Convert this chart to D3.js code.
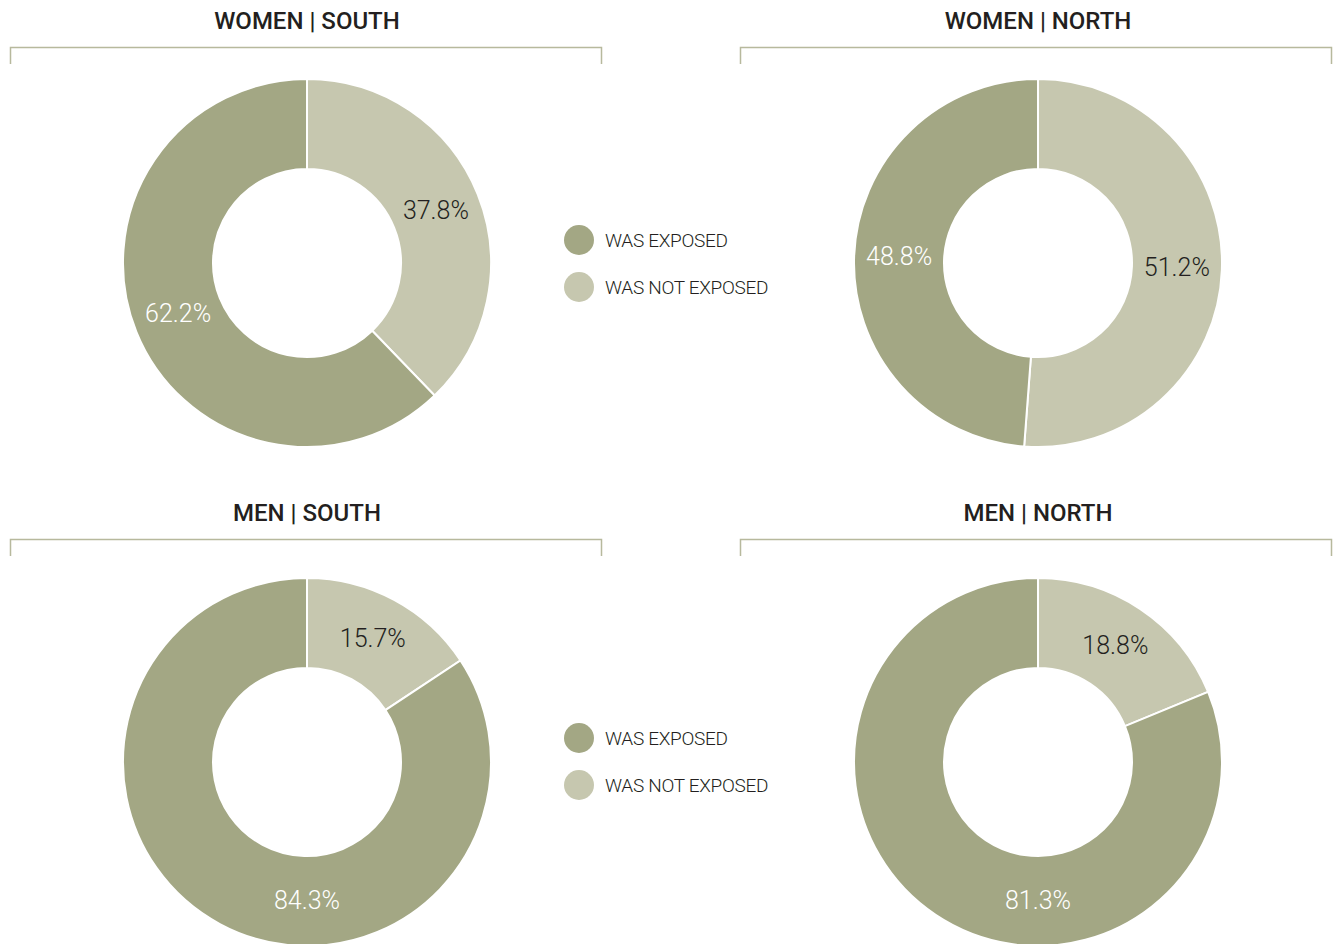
<!DOCTYPE html>
<html>
<head>
<meta charset="utf-8">
<script src="https://cdn.jsdelivr.net/npm/d3@7"></script>
<style>
  body { margin: 0; background: #fff; }
  svg text { font-family: Roboto, "DejaVu Sans", sans-serif; }
</style>
</head>
<body>
<div id="chart"></div>
<script>
// data
const categories = ["WAS NOT EXPOSED", "WAS EXPOSED"];
const panelTitles = ["WOMEN | SOUTH", "WOMEN | NORTH", "MEN | SOUTH", "MEN | NORTH"];
const womenSouth = [37.8, 62.2];
const womenNorth = [51.2, 48.8];
const menSouth = [15.7, 84.3];
const menNorth = [18.8, 81.3];
const legendItems = ["WAS EXPOSED", "WAS NOT EXPOSED"];

const panelValues = [womenSouth, womenNorth, menSouth, menNorth];

const width = 1333, height = 944;
const svg = d3.select("#chart").append("svg")
    .attr("width", width)
    .attr("height", height);

const color = d3.scaleOrdinal()
    .domain(categories)
    .range(["#c6c7af", "#a3a784"]);
const labelColor = d3.scaleOrdinal()
    .domain(categories)
    .range(["#231f20", "#ffffff"]);

const outerR = 184, innerR = 94;
const midR = (outerR + innerR) / 2;
const pie = d3.pie().sort(null).value(d => d.value);
const arc = d3.arc().innerRadius(innerR).outerRadius(outerR);

// label angle: middle of the slice, big slices wrapping the bottom get their label at the bottom
function labelAngle(d) {
    let mid = (d.startAngle + d.endAngle) / 2;
    if (d.data.value > 75 && d.startAngle < Math.PI && d.endAngle > Math.PI) {
        mid = Math.PI;
    }
    return mid;
}

// panel positions
const panels = [
    {cx: 307, cy: 263, bx0: 10, bx1: 602, ty: 21},
    {cx: 1038, cy: 263, bx0: 740, bx1: 1332, ty: 21},
    {cx: 307, cy: 762, bx0: 10, bx1: 602, ty: 513},
    {cx: 1038, cy: 762, bx0: 740, bx1: 1332, ty: 513}
];

panels.forEach(function (p, i) {
    let g = svg.append("g");

    // title
    g.append("text")
        .attr("x", p.cx)
        .attr("y", p.ty)
        .attr("dy", "0.35em")
        .attr("text-anchor", "middle")
        .style("font-size", "24px")
        .style("font-weight", "500")
        .style("fill", "#231f20")
        .text(panelTitles[i]);

    // bracket under the title
    let by = p.ty + 26;
    g.append("path")
        .attr("d", "M" + (p.bx0 + 0.5) + "," + (by + 17) + "V" + (by + 0.5) + "H" + (p.bx1 - 0.5) + "V" + (by + 17))
        .style("fill", "none")
        .style("stroke", "#b7b99d")
        .style("stroke-width", 1.5);

    let data = categories.map((c, k) => ({key: c, value: panelValues[i][k]}));
    let donut = g.append("g")
        .attr("transform", "translate(" + p.cx + "," + p.cy + ")");

    donut.selectAll("path.slice")
        .data(pie(data))
        .enter().append("path")
        .attr("class", "slice")
        .attr("d", arc)
        .style("fill", d => color(d.data.key))
        .style("stroke", "#fff")
        .style("stroke-width", 2);

    donut.selectAll("text.lbl")
        .data(pie(data))
        .enter().append("text")
        .attr("class", "lbl")
        .attr("x", d => midR * Math.sin(labelAngle(d)))
        .attr("y", d => -midR * Math.cos(labelAngle(d)))
        .attr("dy", "0.3em")
        .attr("text-anchor", "middle")
        .style("font-size", "25px")
        .style("font-weight", "300")
        .style("fill", d => labelColor(d.data.key))
        .text(d => d.data.value.toFixed(1) + "%");
});

// legends between the columns
[240, 738].forEach(function (ly) {
    let lg = svg.append("g").attr("transform", "translate(579," + ly + ")");
    legendItems.forEach(function (name, k) {
        let row = lg.append("g").attr("transform", "translate(0," + (k * 47) + ")");
        row.append("circle")
            .attr("r", 15)
            .style("fill", color(name));
        row.append("text")
            .attr("x", 26)
            .attr("dy", "0.35em")
            .style("font-size", "19px")
            .style("font-weight", "300")
            .style("letter-spacing", "-0.3px")
            .style("fill", "#231f20")
            .text(name);
    });
});
</script>
</body>
</html>
